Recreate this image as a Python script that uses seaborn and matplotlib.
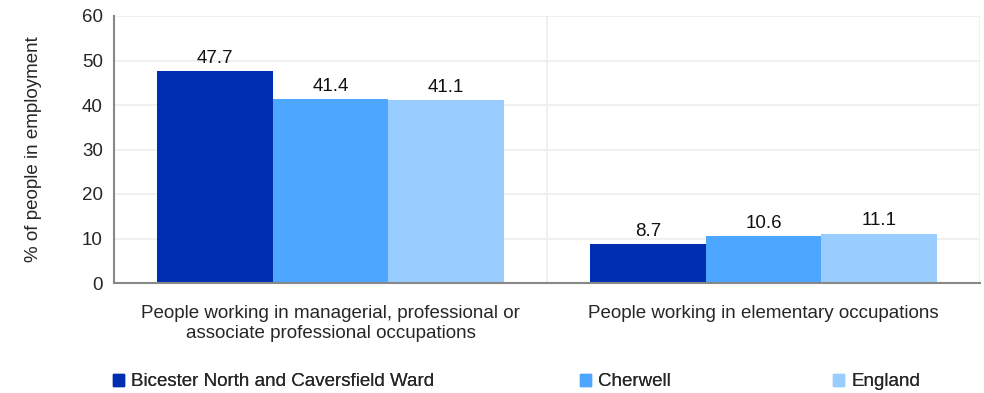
import pandas as pd
import numpy as np
import seaborn as sns
import matplotlib.pyplot as plt

# Data
categories = [
    "People working in managerial, professional or\nassociate professional occupations",
    "People working in elementary occupations",
]
areas = ["Bicester North and Caversfield Ward", "Cherwell", "England"]
ward_values = [47.7, 8.7]
cherwell_values = [41.4, 10.6]
england_values = [41.1, 11.1]
colors = ["#002EB0", "#4DA6FF", "#99CCFF"]

df = pd.DataFrame({
    "category": categories * 3,
    "area": [areas[0]] * 2 + [areas[1]] * 2 + [areas[2]] * 2,
    "value": ward_values + cherwell_values + england_values,
})

sns.set_style("white")
plt.rcParams["font.family"] = ["Liberation Sans", "DejaVu Sans"]
fs = 13.5

fig = plt.figure(figsize=(9.84, 3.93), dpi=100)
ax = fig.add_axes([114 / 984, 1 - 283 / 393, 866 / 984, 267 / 393])

sns.barplot(data=df, x="category", y="value", hue="area", palette=colors,
            width=0.8, saturation=1, linewidth=0, ax=ax, legend=False)

for cont in ax.containers:
    ax.bar_label(cont, fmt="%.1f", padding=3, fontsize=fs, color="#111111")

# Axes styling
ax.set_ylim(0, 60)
ax.set_xlim(-0.5, 1.5)
ax.set_yticks(np.arange(0, 61, 10))
ax.set_xticks([0, 1])
ax.set_xticklabels(categories, fontsize=fs)
ax.set_xticks([-0.5, 0.5, 1.5], minor=True)
ax.tick_params(axis="x", which="major", length=0, pad=16)
ax.tick_params(axis="x", which="minor", length=5, width=1.5, color="#888888")
ax.tick_params(axis="y", length=5, width=1.5, color="#888888", labelsize=fs, pad=3)
ax.set_xlabel("")
ax.set_ylabel("% of people in employment", fontsize=fs, labelpad=29)

ax.grid(axis="y", color="#EEEEEE", linewidth=1.2)
ax.grid(axis="x", which="minor", color="#EEEEEE", linewidth=1.2)
ax.set_axisbelow(True)

for side in ["top", "right"]:
    ax.spines[side].set_visible(False)
for side in ["left", "bottom"]:
    ax.spines[side].set_color("#888888")
    ax.spines[side].set_linewidth(1.5)

# Legend: one entry per legend so the spacing follows the original
legend_x = [107, 574, 827]
for area, c, lx in zip(areas, colors, legend_x):
    lg = fig.legend([plt.Rectangle((0, 0), 1, 1, color=c)], [area],
                    loc="center left", bbox_to_anchor=(lx / 984, 0.028),
                    frameon=False, fontsize=fs, handlelength=0.6, handleheight=0.6,
                    handletextpad=0.4, borderaxespad=0, borderpad=0.3)
    fig.add_artist(lg)

fig.savefig("out.png", dpi=100)
